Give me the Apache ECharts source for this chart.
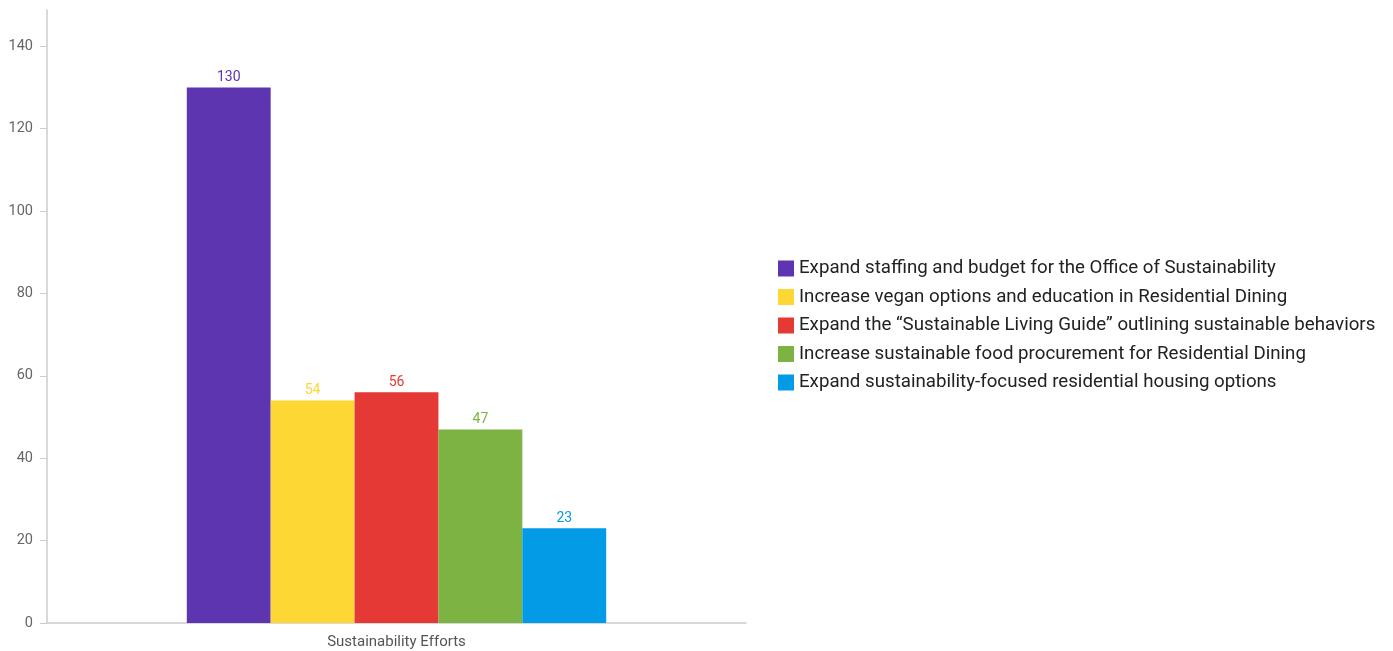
<!DOCTYPE html>
<html><head><meta charset="utf-8">
<script src="https://cdn.jsdelivr.net/npm/echarts@6/dist/echarts.min.js"></script>
<style>html,body{margin:0;padding:0;background:#fff}#c{width:1393px;height:651px}</style>
</head><body><div id="c"></div>
<script>
const categories = ['Sustainability Efforts'];
const seriesNames = [
  'Expand staffing and budget for the Office of Sustainability',
  'Increase vegan options and education in Residential Dining',
  'Expand the \u201cSustainable Living Guide\u201d outlining sustainable behaviors',
  'Increase sustainable food procurement for Residential Dining',
  'Expand sustainability-focused residential housing options'
];
const seriesValues = [130, 54, 56, 47, 23];
const seriesColors = ['#5E35B1', '#FDD835', '#E53935', '#7CB342', '#039BE5'];
const yTicks = [0, 20, 40, 60, 80, 100, 120, 140];

const chart = echarts.init(document.getElementById('c'));
chart.setOption({
  animation: false,
  textStyle: { fontFamily: 'Roboto, sans-serif' },
  grid: { left: 47, right: 647, top: 10, bottom: 28, containLabel: false },
  legend: {
    orient: 'vertical', left: 773, top: 'middle',
    itemWidth: 16, itemHeight: 16, itemGap: 9.5,
    icon: 'rect',
    textStyle: { fontSize: 18.7, color: '#222', fontFamily: 'Roboto, sans-serif' },
    data: seriesNames
  },
  xAxis: {
    type: 'category', data: categories,
    axisLine: { lineStyle: { color: '#ccc', width: 1.5 } },
    axisTick: { show: false },
    axisLabel: { color: '#555', fontSize: 15, margin: 12 }
  },
  yAxis: {
    type: 'value', min: 0, max: 148.8,
    axisLine: { show: true, lineStyle: { color: '#ccc', width: 1.5 } },
    axisTick: { show: true, length: 7, lineStyle: { color: '#ccc' }, customValues: yTicks },
    axisLabel: { color: '#666', fontSize: 14.5, margin: 14, customValues: yTicks },
    splitLine: { show: false }
  },
  series: seriesNames.map((name, i) => ({
    name, type: 'bar',
    data: [seriesValues[i]],
    barGap: '0%', barCategoryGap: '40%',
    itemStyle: { color: seriesColors[i] },
    label: { show: true, position: 'top', distance: 3, color: seriesColors[i], fontSize: 14 }
  }))
});
</script></body></html>
